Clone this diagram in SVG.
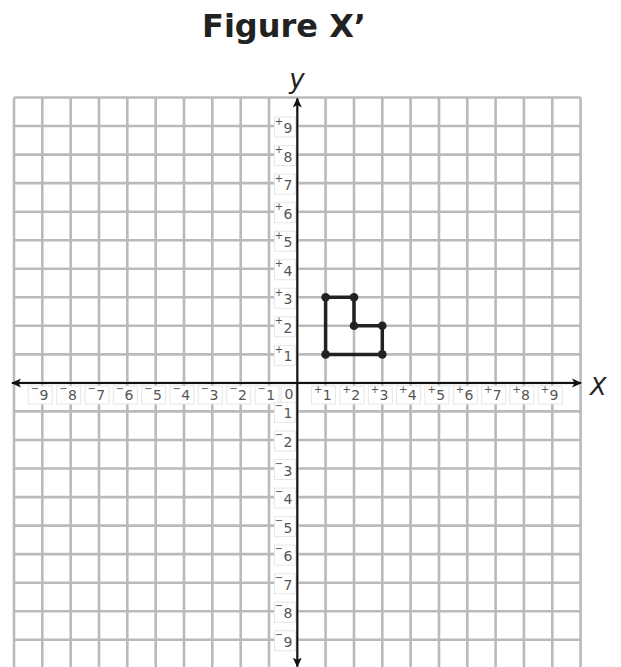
<svg xmlns="http://www.w3.org/2000/svg" width="621" height="667" viewBox="0 0 621 667">
<defs>
<style>
.g{stroke:#bababa;stroke-width:2.6;fill:none}
.ax{stroke:#111;stroke-width:2;fill:none}
.bx{fill:#fff;stroke:#e6e6e6;stroke-width:1}
.lb{font-family:"DejaVu Sans",Verdana,sans-serif;fill:#555}
.d{font-size:14px}
.s{font-size:10px}
.fig{stroke:#222;stroke-width:3.5;fill:none;stroke-linejoin:round}
.pt{fill:#222}
</style>
<marker id="ah" viewBox="0 0 10 10" refX="9" refY="5" markerWidth="10" markerHeight="10" markerUnits="userSpaceOnUse" orient="auto-start-reverse">
<path d="M0,0.5 L10,5 L0,9.5 L2.5,5 Z" fill="#111"/>
</marker>
</defs>
<rect width="621" height="667" fill="#fff"/>
<text x="284" y="37" text-anchor="middle" font-family="'DejaVu Sans',Verdana,sans-serif" font-weight="bold" font-size="32" fill="#222">Figure X’</text>
<g id="grid" class="g">
<path d="M14,97.5V667M42.3,97.5V667M70.7,97.5V667M99,97.5V667M127.3,97.5V667M155.7,97.5V667M184,97.5V667M212.3,97.5V667M240.7,97.5V667M269,97.5V667M297.3,97.5V667M325.6,97.5V667M354,97.5V667M382.3,97.5V667M410.6,97.5V667M439,97.5V667M467.3,97.5V667M495.6,97.5V667M523.9,97.5V667M552.3,97.5V667M580.6,97.5V667"/>
<path d="M14,97.5H580.6M14,126H580.6M14,154.6H580.6M14,183.1H580.6M14,211.7H580.6M14,240.2H580.6M14,268.7H580.6M14,297.3H580.6M14,325.8H580.6M14,354.4H580.6M14,382.9H580.6M14,411.4H580.6M14,440H580.6M14,468.5H580.6M14,497.1H580.6M14,525.6H580.6M14,554.1H580.6M14,582.7H580.6M14,611.2H580.6M14,639.8H580.6"/>
</g>
<g id="label-boxes">
<rect class="bx" x="28.3" y="386" width="24" height="18"/>
<rect class="bx" x="56.7" y="386" width="24" height="18"/>
<rect class="bx" x="85" y="386" width="24" height="18"/>
<rect class="bx" x="113.3" y="386" width="24" height="18"/>
<rect class="bx" x="141.7" y="386" width="24" height="18"/>
<rect class="bx" x="170" y="386" width="24" height="18"/>
<rect class="bx" x="198.3" y="386" width="24" height="18"/>
<rect class="bx" x="226.7" y="386" width="24" height="18"/>
<rect class="bx" x="255" y="386" width="24" height="18"/>
<rect class="bx" x="311.6" y="386" width="24" height="18"/>
<rect class="bx" x="340" y="386" width="24" height="18"/>
<rect class="bx" x="368.3" y="386" width="24" height="18"/>
<rect class="bx" x="396.6" y="386" width="24" height="18"/>
<rect class="bx" x="425" y="386" width="24" height="18"/>
<rect class="bx" x="453.3" y="386" width="24" height="18"/>
<rect class="bx" x="481.6" y="386" width="24" height="18"/>
<rect class="bx" x="509.9" y="386" width="24" height="18"/>
<rect class="bx" x="538.3" y="386" width="24" height="18"/>
<rect class="bx" x="274.5" y="117" width="21" height="20"/>
<rect class="bx" x="274.5" y="145.6" width="21" height="20"/>
<rect class="bx" x="274.5" y="174.1" width="21" height="20"/>
<rect class="bx" x="274.5" y="202.7" width="21" height="20"/>
<rect class="bx" x="274.5" y="231.2" width="21" height="20"/>
<rect class="bx" x="274.5" y="259.7" width="21" height="20"/>
<rect class="bx" x="274.5" y="288.3" width="21" height="20"/>
<rect class="bx" x="274.5" y="316.8" width="21" height="20"/>
<rect class="bx" x="274.5" y="345.4" width="21" height="20"/>
<rect class="bx" x="281" y="386" width="14.5" height="18"/>
<rect class="bx" x="274.5" y="402.4" width="21" height="20"/>
<rect class="bx" x="274.5" y="431" width="21" height="20"/>
<rect class="bx" x="274.5" y="459.5" width="21" height="20"/>
<rect class="bx" x="274.5" y="488.1" width="21" height="20"/>
<rect class="bx" x="274.5" y="516.6" width="21" height="20"/>
<rect class="bx" x="274.5" y="545.1" width="21" height="20"/>
<rect class="bx" x="274.5" y="573.7" width="21" height="20"/>
<rect class="bx" x="274.5" y="602.2" width="21" height="20"/>
<rect class="bx" x="274.5" y="630.8" width="21" height="20"/>
</g>
<g id="axes">
<line class="ax" x1="297.3" y1="382.9" x2="12" y2="382.9" marker-end="url(#ah)"/>
<line class="ax" x1="297.3" y1="382.9" x2="581" y2="382.9" marker-end="url(#ah)"/>
<line class="ax" x1="297.3" y1="382.9" x2="297.3" y2="98.5" marker-end="url(#ah)"/>
<line class="ax" x1="297.3" y1="382.9" x2="297.3" y2="666.5" marker-end="url(#ah)"/>
</g>
<g id="x-labels" class="lb">
<text><tspan class="s" x="30.8" y="392">−</tspan><tspan class="d" x="39.5" y="400">9</tspan></text>
<text><tspan class="s" x="59.2" y="392">−</tspan><tspan class="d" x="67.9" y="400">8</tspan></text>
<text><tspan class="s" x="87.5" y="392">−</tspan><tspan class="d" x="96.2" y="400">7</tspan></text>
<text><tspan class="s" x="115.8" y="392">−</tspan><tspan class="d" x="124.5" y="400">6</tspan></text>
<text><tspan class="s" x="144.2" y="392">−</tspan><tspan class="d" x="152.9" y="400">5</tspan></text>
<text><tspan class="s" x="172.5" y="392">−</tspan><tspan class="d" x="181.2" y="400">4</tspan></text>
<text><tspan class="s" x="200.8" y="392">−</tspan><tspan class="d" x="209.5" y="400">3</tspan></text>
<text><tspan class="s" x="229.2" y="392">−</tspan><tspan class="d" x="237.9" y="400">2</tspan></text>
<text><tspan class="s" x="257.5" y="392">−</tspan><tspan class="d" x="266.2" y="400">1</tspan></text>
<text class="d" x="284.5" y="399">0</text>
<text><tspan class="s" x="314.1" y="392.5">+</tspan><tspan class="d" x="322.8" y="400">1</tspan></text>
<text><tspan class="s" x="342.5" y="392.5">+</tspan><tspan class="d" x="351.2" y="400">2</tspan></text>
<text><tspan class="s" x="370.8" y="392.5">+</tspan><tspan class="d" x="379.5" y="400">3</tspan></text>
<text><tspan class="s" x="399.1" y="392.5">+</tspan><tspan class="d" x="407.8" y="400">4</tspan></text>
<text><tspan class="s" x="427.5" y="392.5">+</tspan><tspan class="d" x="436.2" y="400">5</tspan></text>
<text><tspan class="s" x="455.8" y="392.5">+</tspan><tspan class="d" x="464.5" y="400">6</tspan></text>
<text><tspan class="s" x="484.1" y="392.5">+</tspan><tspan class="d" x="492.8" y="400">7</tspan></text>
<text><tspan class="s" x="512.4" y="392.5">+</tspan><tspan class="d" x="521.1" y="400">8</tspan></text>
<text><tspan class="s" x="540.8" y="392.5">+</tspan><tspan class="d" x="549.5" y="400">9</tspan></text>
</g>
<g id="y-labels" class="lb">
<text><tspan class="s" x="274.8" y="124.5">+</tspan><tspan class="d" x="283.5" y="133">9</tspan></text>
<text><tspan class="s" x="274.8" y="153.1">+</tspan><tspan class="d" x="283.5" y="161.6">8</tspan></text>
<text><tspan class="s" x="274.8" y="181.6">+</tspan><tspan class="d" x="283.5" y="190.1">7</tspan></text>
<text><tspan class="s" x="274.8" y="210.2">+</tspan><tspan class="d" x="283.5" y="218.7">6</tspan></text>
<text><tspan class="s" x="274.8" y="238.7">+</tspan><tspan class="d" x="283.5" y="247.2">5</tspan></text>
<text><tspan class="s" x="274.8" y="267.2">+</tspan><tspan class="d" x="283.5" y="275.7">4</tspan></text>
<text><tspan class="s" x="274.8" y="295.8">+</tspan><tspan class="d" x="283.5" y="304.3">3</tspan></text>
<text><tspan class="s" x="274.8" y="324.3">+</tspan><tspan class="d" x="283.5" y="332.8">2</tspan></text>
<text><tspan class="s" x="274.8" y="352.9">+</tspan><tspan class="d" x="283.5" y="361.4">1</tspan></text>
<text><tspan class="s" x="274.8" y="409.4">−</tspan><tspan class="d" x="283.5" y="418.4">1</tspan></text>
<text><tspan class="s" x="274.8" y="438">−</tspan><tspan class="d" x="283.5" y="447">2</tspan></text>
<text><tspan class="s" x="274.8" y="466.5">−</tspan><tspan class="d" x="283.5" y="475.5">3</tspan></text>
<text><tspan class="s" x="274.8" y="495.1">−</tspan><tspan class="d" x="283.5" y="504.1">4</tspan></text>
<text><tspan class="s" x="274.8" y="523.6">−</tspan><tspan class="d" x="283.5" y="532.6">5</tspan></text>
<text><tspan class="s" x="274.8" y="552.1">−</tspan><tspan class="d" x="283.5" y="561.1">6</tspan></text>
<text><tspan class="s" x="274.8" y="580.7">−</tspan><tspan class="d" x="283.5" y="589.7">7</tspan></text>
<text><tspan class="s" x="274.8" y="609.2">−</tspan><tspan class="d" x="283.5" y="618.2">8</tspan></text>
<text><tspan class="s" x="274.8" y="637.8">−</tspan><tspan class="d" x="283.5" y="646.8">9</tspan></text>
</g>
<g id="axis-names" font-family="'DejaVu Sans',Verdana,sans-serif" font-style="italic" fill="#222">
<text x="297" y="88" text-anchor="middle" font-size="26">y</text>
<text x="590" y="395" font-size="24">X</text>
</g>
<g id="figure">
<path class="fig" d="M325.6,354.4V297.3H354V325.8H382.3V354.4Z"/>
<circle class="pt" cx="325.6" cy="354.4" r="4.3"/>
<circle class="pt" cx="325.6" cy="297.3" r="4.3"/>
<circle class="pt" cx="354" cy="297.3" r="4.3"/>
<circle class="pt" cx="354" cy="325.8" r="4.3"/>
<circle class="pt" cx="382.3" cy="325.8" r="4.3"/>
<circle class="pt" cx="382.3" cy="354.4" r="4.3"/>
</g>
</svg>
